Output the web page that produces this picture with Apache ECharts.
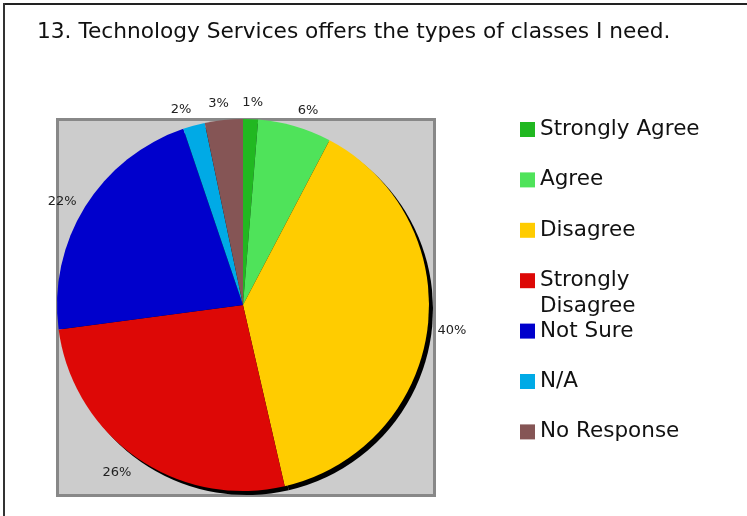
<!DOCTYPE html>
<html><head><meta charset="utf-8">
<script src="https://cdn.jsdelivr.net/npm/echarts@6/dist/echarts.min.js"></script>
<style>html,body{margin:0;padding:0;background:#fff}#c{width:747px;height:516px}</style>
</head><body><div id="c"></div>
<script>
const titleText = '13. Technology Services offers the types of classes I need.';
const categories = ['Strongly Agree','Agree','Disagree','Strongly Disagree','Not Sure','N/A','No Response'];
const values = [1.3, 6.4, 38.7, 26.5, 21.9, 1.9, 3.3];
const pctLabels = ['1%','6%','40%','26%','22%','2%','3%'];
const colors = ['#21b821','#4fe35a','#ffcc00','#dd0806','#0000cc','#00aae6','#855555'];

const FONT = '"DejaVu Sans", Verdana, sans-serif';
const cx = 243, cy = 305, R = 186, LABEL_D = 196;

const total = values.reduce((a, b) => a + b, 0);
function midDir(i) {
  let before = 0;
  for (let k = 0; k < i; k++) before += values[k];
  const a = (before + values[i] / 2) / total * 2 * Math.PI; // clockwise from top
  return [Math.sin(a), -Math.cos(a)];
}
const clamp = t => Math.max(-1, Math.min(1, t));

const chart = echarts.init(document.getElementById('c'), null, {renderer: 'canvas'});
chart.setOption({
  animation: false,
  backgroundColor: '#ffffff',
  title: {
    text: titleText, left: 37, top: 21, padding: 0,
    textStyle: {fontFamily: FONT, fontSize: 21.7, fontWeight: 'normal', color: '#111'}
  },
  legend: {
    orient: 'vertical', left: 520, top: 118.5, padding: 0,
    itemWidth: 15, itemHeight: 15, itemGap: 28.4, icon: 'rect',
    selectedMode: false,
    data: categories,
    formatter: n => n === 'Strongly Disagree' ? 'Strongly' : n,
    textStyle: {fontFamily: FONT, fontSize: 21.5, color: '#111', lineHeight: 21.5}
  },
  graphic: [
    {type: 'line', z: 0, shape: {x1: 3, y1: 4, x2: 747, y2: 4}, style: {stroke: '#222', lineWidth: 2}},
    {type: 'line', z: 0, shape: {x1: 4, y1: 3, x2: 4, y2: 516}, style: {stroke: '#333', lineWidth: 2}},
    {type: 'rect', z: 0, shape: {x: 57.5, y: 119.5, width: 377, height: 376},
     style: {fill: '#cccccc', stroke: '#888888', lineWidth: 3}},
    {type: 'text', z: 10, style: {text: 'Disagree', x: 540, y: 306.5, verticalAlign: 'middle',
      font: '21.5px ' + FONT, fill: '#111'}}
  ],
  series: [
    {
      type: 'pie', name: 'main', z: 3, center: [cx, cy], radius: R, startAngle: 90,
      silent: true, avoidLabelOverlap: false,
      label: {show: true, position: 'inside', rotate: 0,
        formatter: p => pctLabels[p.dataIndex],
        fontFamily: FONT, fontSize: 13, color: '#222'},
      labelLine: {show: false},
      labelLayout: function (params) {
        const [ux, uy] = midDir(params.dataIndex);
        const w = params.labelRect.width, h = params.labelRect.height;
        const sx = clamp(ux / 0.25);
        const sy = Math.sign(uy) * Math.min(1, Math.max(0, (Math.abs(uy) - 0.55) / 0.25));
        return {
          x: cx + ux * LABEL_D + sx * w / 2,
          y: cy + uy * LABEL_D + sy * h / 2,
          align: 'center', verticalAlign: 'middle'
        };
      },
      emphasis: {disabled: true},
      data: categories.map((n, i) => ({name: n, value: values[i], itemStyle: {color: colors[i]}}))
    },
    {
      type: 'pie', name: 'shadow', z: 2, center: [cx + 4, cy + 4], radius: R, startAngle: 90,
      silent: true, label: {show: false}, labelLine: {show: false},
      emphasis: {disabled: true},
      itemStyle: {color: '#000'},
      data: values.map(v => ({value: v}))
    }
  ]
});
</script></body></html>
